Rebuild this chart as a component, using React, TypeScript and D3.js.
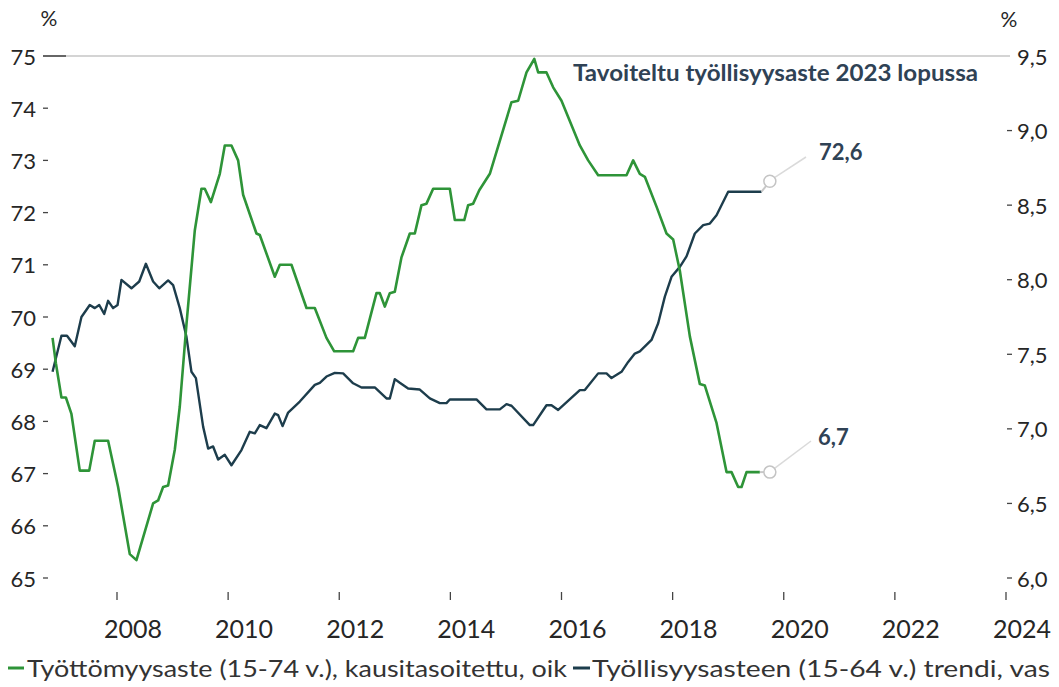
import { useMemo } from 'react';
import * as d3 from 'd3';

// Työllisyysasteen trendi (15-64 v.), % — left axis
const empDates = [
  2006.84, 2007.0, 2007.1, 2007.24, 2007.36, 2007.51, 2007.6, 2007.68, 2007.77, 2007.84, 2007.93,
  2008.01, 2008.08, 2008.26, 2008.4, 2008.52, 2008.65, 2008.76, 2008.92, 2009.01, 2009.13, 2009.25,
  2009.34, 2009.42, 2009.55, 2009.64, 2009.73, 2009.82, 2009.94, 2010.06, 2010.24, 2010.39, 2010.48,
  2010.57, 2010.69, 2010.84, 2010.9, 2010.98, 2011.08, 2011.29, 2011.56, 2011.65, 2011.77, 2011.92,
  2012.07, 2012.25, 2012.4, 2012.64, 2012.85, 2012.91, 2013.0, 2013.09, 2013.24, 2013.45, 2013.63,
  2013.81, 2013.93, 2013.99, 2014.47, 2014.65, 2014.89, 2015.01, 2015.1, 2015.43, 2015.49, 2015.73,
  2015.82, 2015.94, 2016.33, 2016.42, 2016.66, 2016.81, 2016.9, 2017.08, 2017.2, 2017.32, 2017.41,
  2017.62, 2017.74, 2017.86, 2017.98, 2018.13, 2018.25, 2018.4, 2018.55, 2018.67, 2018.79, 2019.0,
  2019.6, 2019.75,
];
const empValues = [
  68.95, 69.64, 69.64, 69.44, 70.0, 70.23, 70.17, 70.23, 70.06, 70.31, 70.17,
  70.23, 70.71, 70.55, 70.68, 71.02, 70.68, 70.55, 70.7, 70.61, 70.17, 69.62,
  68.95, 68.83, 67.9, 67.48, 67.52, 67.27, 67.36, 67.16, 67.45, 67.8, 67.77,
  67.93, 67.87, 68.15, 68.12, 67.91, 68.17, 68.38, 68.7, 68.74, 68.86, 68.93,
  68.92, 68.73, 68.65, 68.65, 68.44, 68.44, 68.81, 68.74, 68.63, 68.61, 68.44,
  68.35, 68.35, 68.42, 68.42, 68.23, 68.23, 68.33, 68.3, 67.93, 67.93, 68.31,
  68.31, 68.22, 68.6, 68.6, 68.92, 68.92, 68.83, 68.95, 69.14, 69.3, 69.34,
  69.56, 69.88, 70.39, 70.77, 70.96, 71.16, 71.6, 71.76, 71.79, 71.95, 72.4,
  72.4, 72.6,
];

// Työttömyysaste (15-74 v.), kausitasoitettu, % — right axis
const unempDates = [
  2006.84, 2006.9, 2007.0, 2007.08, 2007.18, 2007.33, 2007.5, 2007.6, 2007.84, 2008.02, 2008.23,
  2008.35, 2008.65, 2008.74, 2008.83, 2008.92, 2009.04, 2009.13, 2009.25, 2009.4, 2009.52, 2009.58,
  2009.69, 2009.85, 2009.94, 2010.06, 2010.18, 2010.27, 2010.51, 2010.57, 2010.84, 2010.93, 2011.14,
  2011.41, 2011.56, 2011.77, 2011.91, 2012.25, 2012.34, 2012.46, 2012.67, 2012.73, 2012.82, 2012.91,
  2013.0, 2013.12, 2013.27, 2013.36, 2013.48, 2013.57, 2013.69, 2013.99, 2014.08, 2014.25, 2014.32,
  2014.41, 2014.52, 2014.71, 2015.1, 2015.22, 2015.37, 2015.51, 2015.58, 2015.73, 2015.85, 2016.0,
  2016.33, 2016.48, 2016.66, 2017.17, 2017.29, 2017.41, 2017.5, 2017.71, 2017.89, 2018.01, 2018.13,
  2018.31, 2018.49, 2018.58, 2018.79, 2018.97, 2019.06, 2019.18, 2019.24, 2019.33, 2019.57, 2019.75,
];
const unempValues = [
  7.61, 7.44, 7.21, 7.21, 7.1, 6.72, 6.72, 6.92, 6.92, 6.61, 6.16,
  6.12, 6.5, 6.52, 6.61, 6.62, 6.86, 7.15, 7.7, 8.33, 8.61, 8.61,
  8.52, 8.71, 8.9, 8.9, 8.8, 8.57, 8.31, 8.3, 8.02, 8.1, 8.1,
  7.81, 7.81, 7.61, 7.52, 7.52, 7.61, 7.61, 7.91, 7.91, 7.82, 7.91,
  7.92, 8.15, 8.31, 8.31, 8.5, 8.51, 8.61, 8.61, 8.4, 8.4, 8.5,
  8.51, 8.6, 8.71, 9.19, 9.2, 9.39, 9.48, 9.39, 9.39, 9.29, 9.2,
  8.9, 8.8, 8.7, 8.7, 8.8, 8.71, 8.69, 8.49, 8.31, 8.27, 8.06,
  7.62, 7.3, 7.29, 7.04, 6.71, 6.71, 6.61, 6.61, 6.71, 6.71, 6.71,
];

const targetRate = [75];
const endLabels = ['72,6', '6,7'];
const leftTicks = [65, 66, 67, 68, 69, 70, 71, 72, 73, 74, 75];
const rightTicks = [6.0, 6.5, 7.0, 7.5, 8.0, 8.5, 9.0, 9.5];
const yearTicks = [2008, 2010, 2012, 2014, 2016, 2018, 2020, 2022, 2024];
const annotationText = 'Tavoiteltu työllisyysaste 2023 lopussa';
const legendLabels = [
  'Työttömyysaste (15-74 v.), kausitasoitettu, oik',
  'Työllisyysasteen (15-64 v.) trendi, vas',
];

const GREEN = '#2e9438';
const DARK = '#1d3d4c';
const LABEL = '#2f4255';
const AXIS_TEXT = '#262626';
const FONT = "Lato, 'Open Sans', sans-serif";

export default function App() {
  const width = 1059;
  const height = 687;
  const top = 56;
  const bottom = 578;

  const x = useMemo(() => d3.scaleLinear().domain([2008, 2024]).range([117, 1006]), []);
  const yLeft = useMemo(() => d3.scaleLinear().domain([65, 75]).range([bottom, top]), []);
  const yRight = useMemo(() => d3.scaleLinear().domain([6, 9.5]).range([bottom, top]), []);

  const emp: [number, number][] = empDates.map((d, i) => [d, empValues[i]]);
  const unemp: [number, number][] = unempDates.map((d, i) => [d, unempValues[i]]);

  const empLine = d3.line<[number, number]>().x((d) => x(d[0])).y((d) => yLeft(d[1]));
  const unempLine = d3.line<[number, number]>().x((d) => x(d[0])).y((d) => yRight(d[1]));

  const empLast = emp[emp.length - 1];
  const unempLast = unemp[unemp.length - 1];

  return (
    <svg
      width={width}
      height={height}
      style={{ position: 'absolute', left: 0, top: 0, background: '#fff' }}
      fontFamily={FONT}
    >
      {/* target line */}
      <line x1={43} x2={66} y1={yLeft(targetRate[0])} y2={yLeft(targetRate[0])} stroke="#333" strokeWidth={1.5} />
      <line x1={66} x2={1010} y1={yLeft(targetRate[0])} y2={yLeft(targetRate[0])} stroke="#d4d4d4" strokeWidth={2} />

      {/* left axis */}
      <text x={49} y={21} textAnchor="middle" dominantBaseline="middle" fontSize={21} fill={AXIS_TEXT}>%</text>
      {leftTicks.map((t) => (
        <g key={t}>
          {t !== 75 && <line x1={43} x2={48} y1={yLeft(t)} y2={yLeft(t)} stroke="#444" strokeWidth={1.3} />}
          <text x={36} y={yLeft(t)} textAnchor="end" dominantBaseline="central" fontSize={22} fill={AXIS_TEXT}>
            {t}
          </text>
        </g>
      ))}

      {/* right axis */}
      <text x={1009} y={22} textAnchor="middle" dominantBaseline="middle" fontSize={21} fill={AXIS_TEXT}>%</text>
      {rightTicks.map((t) => (
        <g key={t}>
          {t !== 9.5 && <line x1={1007} x2={1012} y1={yRight(t)} y2={yRight(t)} stroke="#444" strokeWidth={1.3} />}
          <text x={1017} y={yRight(t)} textAnchor="start" dominantBaseline="central" fontSize={22} fill={AXIS_TEXT}>
            {t.toFixed(1).replace('.', ',')}
          </text>
        </g>
      ))}

      {/* x axis */}
      {yearTicks.map((yr) => (
        <g key={yr}>
          <line x1={x(yr)} x2={x(yr)} y1={592} y2={600} stroke="#444" strokeWidth={1.3} />
          <text x={x(yr) + 16} y={628} textAnchor="middle" dominantBaseline="central" fontSize={25} fill={AXIS_TEXT}>
            {yr}
          </text>
        </g>
      ))}

      {/* series */}
      <path d={empLine(emp.slice(0, -1)) ?? ''} fill="none" stroke={DARK} strokeWidth={2.4} strokeLinejoin="round" />
      <path d={empLine(emp.slice(-2)) ?? ''} fill="none" stroke="#c8c8c8" strokeWidth={2} />
      <path d={unempLine(unemp.slice(0, -1)) ?? ''} fill="none" stroke={GREEN} strokeWidth={2.6} strokeLinejoin="round" />
      <path d={unempLine(unemp.slice(-2)) ?? ''} fill="none" stroke="#c8c8c8" strokeWidth={2} />

      {/* end markers and labels */}
      <line x1={x(empLast[0]) + 5} y1={yLeft(empLast[1]) - 4} x2={806} y2={157} stroke="#dadada" strokeWidth={1.5} />
      <circle cx={x(empLast[0])} cy={yLeft(empLast[1])} r={6} fill="#fff" stroke="#c4c4c4" strokeWidth={1.5} />
      <text x={819} y={151} dominantBaseline="central" fontSize={22} fontWeight="bold" fill={LABEL}>
        {endLabels[0]}
      </text>
      <line x1={x(unempLast[0]) + 5} y1={yRight(unempLast[1]) - 4} x2={811} y2={441} stroke="#dadada" strokeWidth={1.5} />
      <circle cx={x(unempLast[0])} cy={yRight(unempLast[1])} r={6} fill="#fff" stroke="#c4c4c4" strokeWidth={1.5} />
      <text x={818} y={436} dominantBaseline="central" fontSize={22} fontWeight="bold" fill={LABEL}>
        {endLabels[1]}
      </text>

      {/* annotation */}
      <text
        x={573}
        y={72}
        dominantBaseline="central"
        fontSize={22}
        fontWeight="bold"
        fill={LABEL}
        textLength={405}
        lengthAdjust="spacingAndGlyphs"
      >
        {annotationText}
      </text>

      {/* legend */}
      <line x1={8} x2={24} y1={668} y2={668} stroke={GREEN} strokeWidth={3} />
      <text x={27} y={668} dominantBaseline="central" fontSize={23} fill="#333" textLength={540} lengthAdjust="spacingAndGlyphs">
        {legendLabels[0]}
      </text>
      <line x1={573} x2={590} y1={668} y2={668} stroke={DARK} strokeWidth={3} />
      <text x={592} y={668} dominantBaseline="central" fontSize={23} fill="#333" textLength={458} lengthAdjust="spacingAndGlyphs">
        {legendLabels[1]}
      </text>
    </svg>
  );
}
